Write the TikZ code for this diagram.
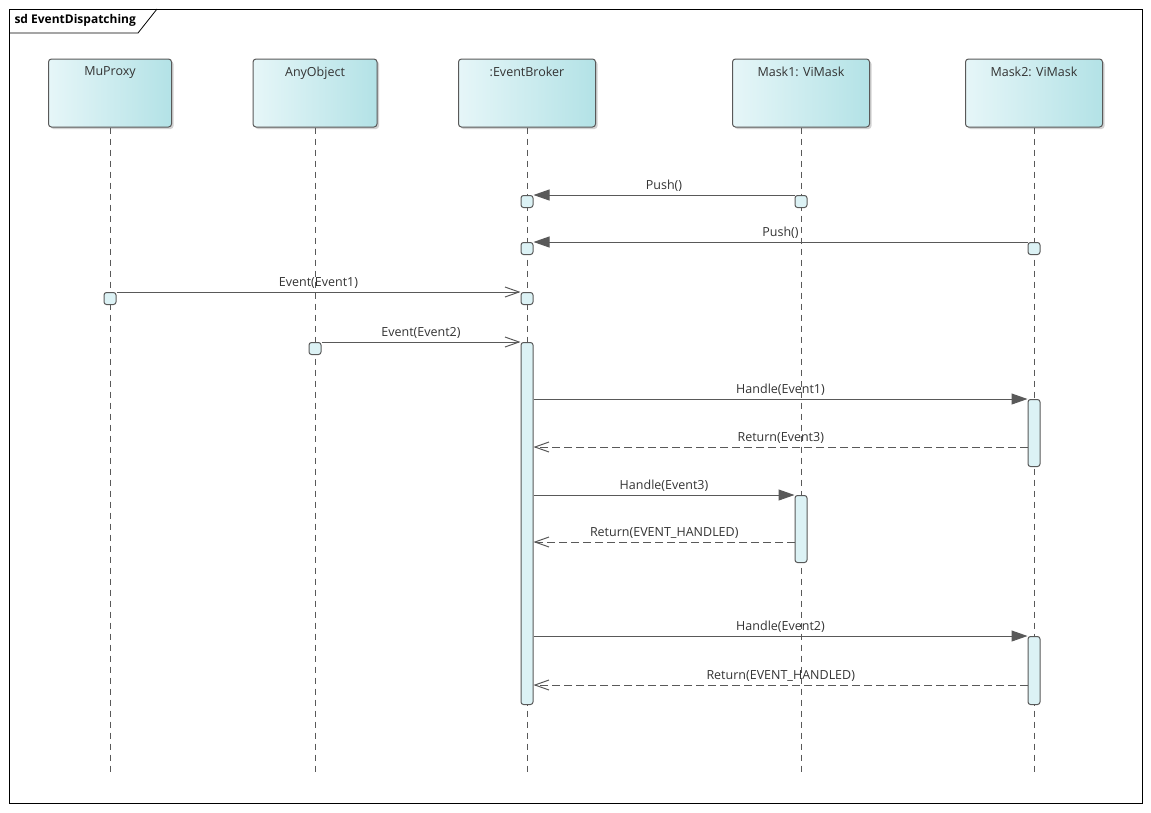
\documentclass[tikz,border=0pt]{standalone}
\usepackage{fontspec}
\setmainfont{Open Sans}
\usetikzlibrary{positioning, arrows.meta, shadows, calc}
\definecolor{lineGray}{HTML}{595959}
\definecolor{textGray}{HTML}{333333}
\definecolor{headLeft}{HTML}{E6F6F8}
\definecolor{headRight}{HTML}{B3E2E6}
\definecolor{execFill}{HTML}{DCF2F5}
\tikzset{
  x=1pt, y=-1pt,
  every node/.style={font=\fontsize{12.5}{15}\selectfont, text=textGray},
  head/.style={draw=lineGray, line width=1pt, rounded corners=3pt,
    minimum height=68pt, left color=headLeft, right color=headRight,
    drop shadow={shadow xshift=2pt, shadow yshift=-2pt, fill=black!35},
    label={[below=5pt]north:#1}},
  lifeline/.style={draw=lineGray, line width=0.8pt, dash pattern=on 6pt off 5pt},
  exec/.style={draw=lineGray, line width=1pt, fill=execFill, rounded corners=2.5pt,
    minimum width=12pt, minimum height=12pt, inner sep=0pt, anchor=north},
  act/.style={exec, minimum height=#1},
  call/.style={draw=lineGray, line width=1pt, -{Triangle[length=16pt,width=11pt]}},
  signal/.style={draw=lineGray, line width=1pt, -{Straight Barb[length=14pt,width=10pt]}},
  reply/.style={draw=lineGray, line width=1pt, dash pattern=on 8pt off 4pt,
    -{Straight Barb[length=14pt,width=10pt]}},
}
\begin{document}
\begin{tikzpicture}
  \useasboundingbox (0,0) rectangle (1151,812);
  % frame
  \draw[line width=0.8pt] (9,9) rectangle (1142,803);
  \draw[line width=0.8pt] (9,33) -- (138,33) -- (157,9);
  \node[anchor=west, font=\fontsize{12}{14}\selectfont\bfseries, text=black] (title) at (11,20) {sd EventDispatching};

  % lifelines
  \foreach \name/\txt/\x/\w in {muproxy/MuProxy/110/123, anyobject/AnyObject/315/124,
      broker/{:EventBroker}/527/137, maskA/{Mask1: ViMask}/801/137, maskB/{Mask2: ViMask}/1034/137}{
    \node[head=\txt, minimum width=\w pt] (\name) at (\x,93) {};
    \coordinate (\name End) at (\x,772);
    \draw[lifeline] (\name) -- (\name End);
  }

  % executions
  \node[exec] (brokerA) at (527,195) {};
  \node[exec] (maskAA) at (801,195) {};
  \node[exec] (brokerB) at (527,242) {};
  \node[exec] (maskBB) at (1034,242) {};
  \node[exec] (muproxyA) at (110,292) {};
  \node[exec] (brokerC) at (527,292) {};
  \node[exec] (anyobjectA) at (315,342) {};
  \node[act=362pt] (brokerAct) at (527,342) {};
  \node[act=67pt] (maskBAct1) at (1034,399) {};
  \node[act=67pt] (maskAAct) at (801,495) {};
  \node[act=68pt] (maskBAct2) at (1034,636) {};

  \coordinate (ret1) at (1028,447);
  \coordinate (ret2) at (795,542);
  \coordinate (ret3) at (1028,685);

  % messages
  \draw[call] (maskAA.north west) -- node[above]{Push()} (brokerA.north east);
  \draw[call] (maskBB.north west) -- node[above]{Push()} (brokerB.north east);
  \draw[signal] (muproxyA.north east) -- node[above]{Event(Event1)} (brokerC.north west);
  \draw[signal] (anyobjectA.north east) -- node[above]{Event(Event2)} (brokerAct.north west);
  \draw[call] (brokerAct.east |- maskBAct1.north) -- node[above]{Handle(Event1)} (maskBAct1.north west);
  \draw[reply] (ret1) -- node[above]{Return(Event3)} (brokerAct.east |- ret1);
  \draw[call] (brokerAct.east |- maskAAct.north) -- node[above]{Handle(Event3)} (maskAAct.north west);
  \draw[reply] (ret2) -- node[above]{Return(EVENT\_HANDLED)} (brokerAct.east |- ret2);
  \draw[call] (brokerAct.east |- maskBAct2.north) -- node[above]{Handle(Event2)} (maskBAct2.north west);
  \draw[reply] (ret3) -- node[above]{Return(EVENT\_HANDLED)} (brokerAct.east |- ret3);
\end{tikzpicture}
\end{document}
